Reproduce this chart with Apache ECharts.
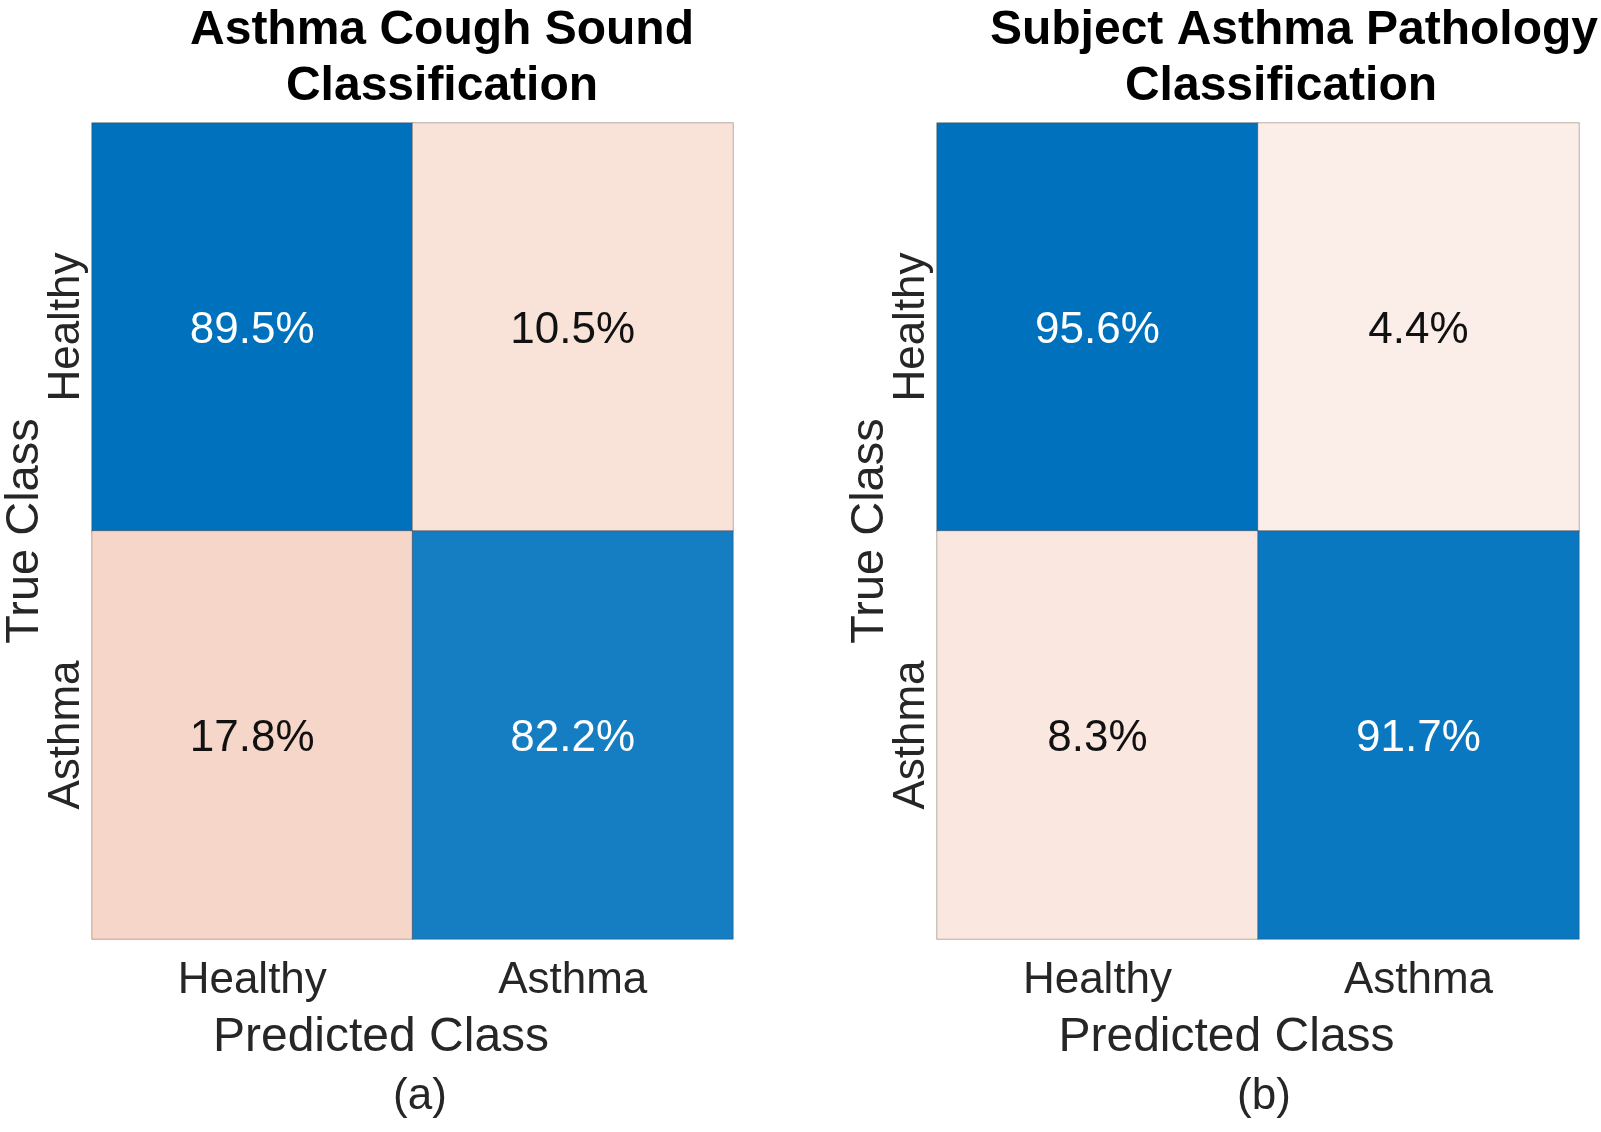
<!DOCTYPE html>
<html>
<head>
<meta charset="utf-8">
<title>Asthma confusion matrices</title>
<script src="https://cdn.jsdelivr.net/npm/echarts@6/dist/echarts.min.js"></script>
<style>
  html, body { margin: 0; padding: 0; background: #fff; }
  #chart { width: 1601px; height: 1132px; }
</style>
</head>
<body>
<div id="chart"></div>
<script>
'use strict';

// classes (rows = true class, columns = predicted class)
const classes = ['Healthy', 'Asthma'];

// row-normalised percentages
const coughMatrix = [
  [89.5, 10.5],
  [17.8, 82.2]
];
const subjectMatrix = [
  [95.6, 4.4],
  [8.3, 91.7]
];

const panelLabels = ['(a)', '(b)'];

const DIAG = [0, 114, 189];     // MATLAB blue
const OFFDIAG = [217, 83, 25];  // MATLAB orange
const FONT = '"Liberation Sans", Arial, Helvetica, sans-serif';

// white -> base colour, stronger for larger values
function cellColor(value, maxValue, diag) {
  let base = diag ? DIAG : OFFDIAG;
  let a = diag ? value / maxValue : 0.06 + 0.9 * value / maxValue;
  a = Math.min(1, a);
  let c = base.map(v => Math.round(255 - (255 - v) * a));
  return 'rgb(' + c.join(',') + ')';
}

function cells(matrix) {
  let maxValue = Math.max(...matrix.flat());
  let out = [];
  matrix.forEach((row, r) => {
    row.forEach((v, c) => {
      let diag = r === c;
      let strong = diag && v / maxValue > 0.5;
      out.push({
        value: [c, r, v],
        itemStyle: { color: cellColor(v, maxValue, diag) },
        label: { color: strong ? '#ffffff' : '#111111' }
      });
    });
  });
  return out;
}

let grids = [
  { left: 92, top: 123, width: 641, height: 816, outerBoundsMode: 'none', containLabel: false },
  { left: 937, top: 123, width: 642, height: 816, outerBoundsMode: 'none', containLabel: false }
];

function xAxis(i) {
  return {
    type: 'category', gridIndex: i, data: classes,
    position: 'bottom',
    axisLine: { show: false }, axisTick: { show: false }, splitLine: { show: false },
    axisLabel: { fontFamily: FONT, fontSize: 44, color: '#262626', margin: 20 },
    name: 'Predicted Class', nameLocation: 'middle', nameGap: 75, nameMoveOverlap: false,
    nameTextStyle: { fontFamily: FONT, fontSize: 48, color: '#262626', padding: [0, 63, 0, 0] }
  };
}

function yAxis(i) {
  return {
    type: 'category', gridIndex: i, data: classes, inverse: true,
    axisLine: { show: false }, axisTick: { show: false }, splitLine: { show: false },
    axisLabel: { fontFamily: FONT, fontSize: 44, color: '#262626', rotate: 90, margin: 3 },
    name: 'True Class', nameLocation: 'middle', nameRotate: 90, nameGap: 43, nameMoveOverlap: false,
    nameTextStyle: { fontFamily: FONT, fontSize: 47, color: '#262626' }
  };
}

function heat(i, matrix) {
  return {
    type: 'heatmap', xAxisIndex: i, yAxisIndex: i,
    data: cells(matrix),
    itemStyle: { borderColor: 'rgba(60,40,30,0.35)', borderWidth: 1 },
    label: {
      show: true, fontFamily: FONT, fontSize: 44, offset: [0, 4],
      formatter: p => p.value[2].toFixed(1) + '%'
    },
    emphasis: { disabled: true }
  };
}

let titleStyle = { fontFamily: FONT, fontSize: 48, fontWeight: 'bold', color: '#000' };
let subStyle = { fontFamily: FONT, fontSize: 44, fontWeight: 'normal', color: '#262626' };

let option = {
  backgroundColor: '#ffffff',
  animation: false,
  title: [
    { text: 'Asthma Cough Sound', left: 437, top: 2, textAlign: 'center', textStyle: titleStyle },
    { text: 'Classification', left: 437, top: 58, textAlign: 'center', textStyle: titleStyle },
    { text: 'Subject Asthma Pathology', left: 1289, top: 2, textAlign: 'center', textStyle: titleStyle },
    { text: 'Classification', left: 1276, top: 58, textAlign: 'center', textStyle: titleStyle },
    { text: panelLabels[0], left: 415, top: 1070, textAlign: 'center', textStyle: subStyle },
    { text: panelLabels[1], left: 1259, top: 1070, textAlign: 'center', textStyle: subStyle }
  ],
  grid: grids,
  xAxis: [xAxis(0), xAxis(1)],
  yAxis: [yAxis(0), yAxis(1)],
  series: [heat(0, coughMatrix), heat(1, subjectMatrix)]
};

let myChart = echarts.init(document.getElementById('chart'));
myChart.setOption(option);
</script>
</body>
</html>
